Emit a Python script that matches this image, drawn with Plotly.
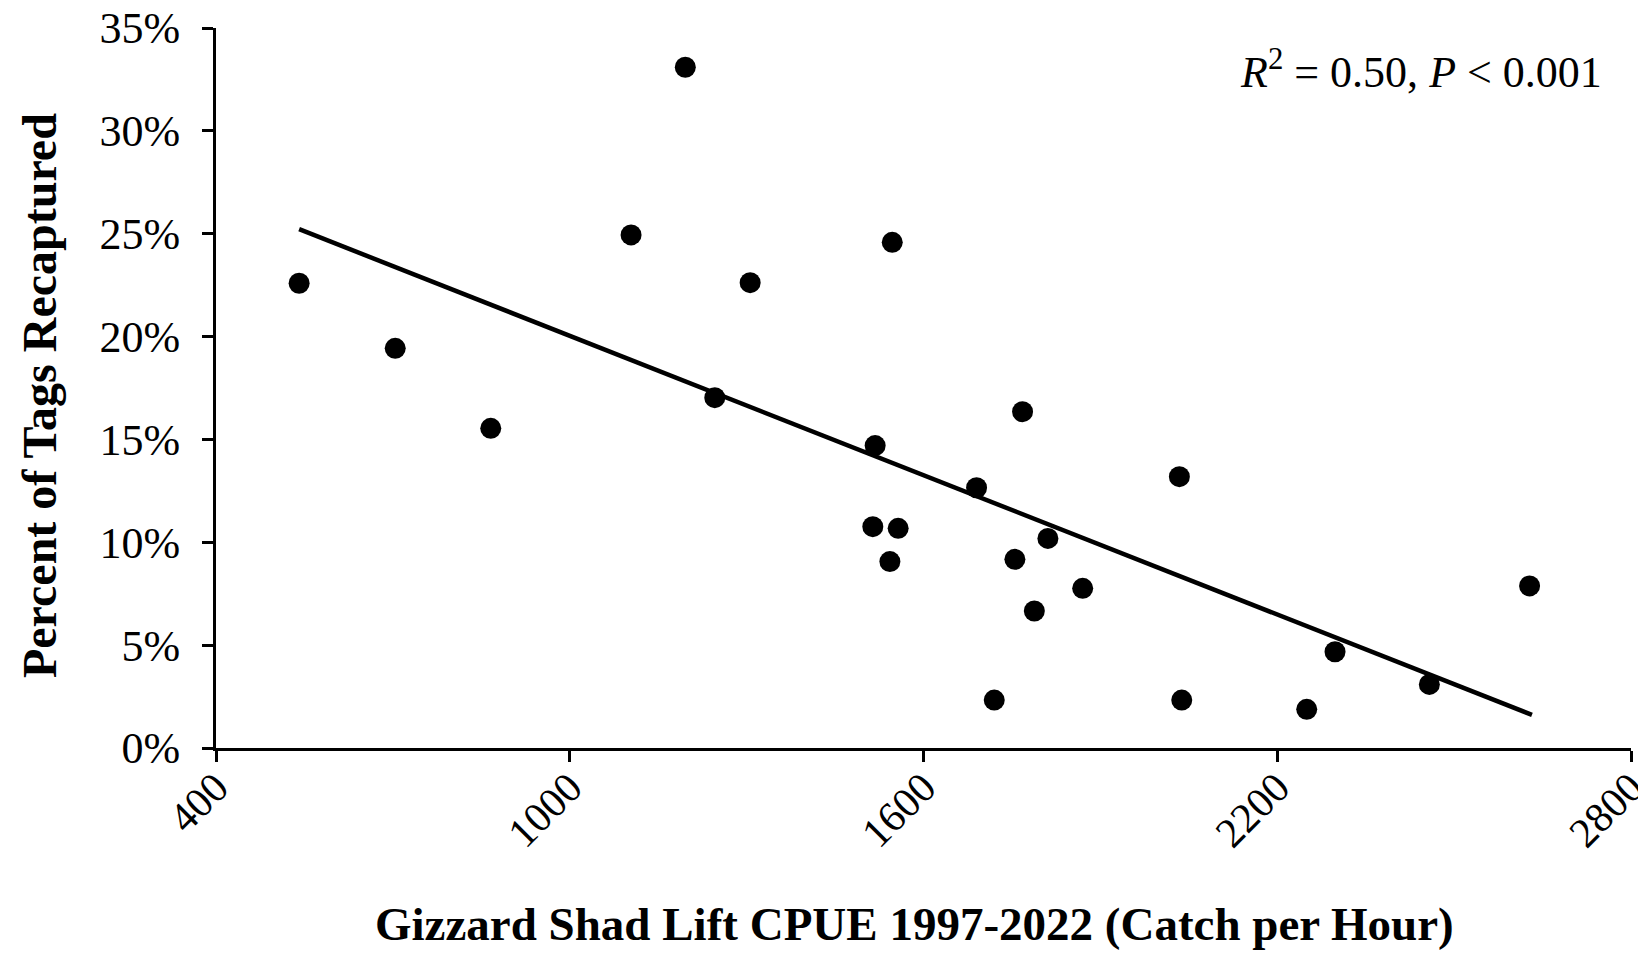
import plotly.graph_objects as go

# Data
cpue = [541, 704, 866, 1104, 1196, 1246, 1306, 1518, 1514, 1543, 1547, 1557,
        1690, 1720, 1755, 1768, 1788, 1811, 1870, 2034, 2038, 2250, 2298, 2458, 2628]
pct_recaptured = [22.59, 19.43, 15.54, 24.94, 33.09, 17.03, 22.62, 14.7, 10.76, 9.06, 24.58, 10.68,
                  12.65, 2.33, 9.17, 16.35, 6.66, 10.19, 7.76, 13.19, 2.33, 1.88, 4.68, 3.09, 7.88]

trend_x = [541, 2632]
trend_y = [25.22, 1.61]

x_ticks = [400, 1000, 1600, 2200, 2800]
y_ticks = [0, 5, 10, 15, 20, 25, 30, 35]

FONT = "Liberation Serif"

fig = go.Figure()
fig.add_trace(go.Scatter(
    x=cpue, y=pct_recaptured, mode="markers",
    marker=dict(color="black", size=21, line=dict(width=0)),
    showlegend=False, cliponaxis=False,
))
fig.add_trace(go.Scatter(
    x=trend_x, y=trend_y, mode="lines",
    line=dict(color="black", width=4.5),
    showlegend=False,
))

fig.add_annotation(
    x=1, y=35, xref="paper", yref="y", xanchor="right", yanchor="top",
    xshift=-27, yshift=-12,
    text="<i>R</i><sup>2</sup> = 0.50, <i>P</i> &lt; 0.001",
    showarrow=False, font=dict(family=FONT, size=44, color="black"),
)
# axis titles
fig.add_annotation(
    x=0.5, y=0, xref="paper", yref="paper", xanchor="center", yanchor="middle",
    yshift=-176, xshift=-9,
    text="<b>Gizzard Shad Lift CPUE 1997-2022 (Catch per Hour)</b>",
    showarrow=False, font=dict(family=FONT, size=47, color="black"),
)
fig.add_annotation(
    x=0, y=0.5, xref="paper", yref="paper", xanchor="center", yanchor="middle",
    xshift=-177, yshift=-8, textangle=-90,
    text="<b>Percent of Tags Recaptured</b>",
    showarrow=False, font=dict(family=FONT, size=48, color="black"),
)

# page body has an 8px margin, so the figure is sized to fit inside the window
fig.update_layout(
    width=1630, height=954,
    margin=dict(l=208, r=7, t=20, b=214),
    paper_bgcolor="white", plot_bgcolor="white",
    font=dict(family=FONT, color="black"),
)
fig.update_xaxes(
    range=[400, 2800], tickvals=x_ticks, ticktext=[str(v) for v in x_ticks],
    tickangle=-45, tickfont=dict(family=FONT, size=42, color="black"),
    showline=True, linecolor="black", linewidth=3,
    ticks="outside", ticklen=11, tickwidth=3, tickcolor="black",
    ticklabelstandoff=-16, ticklabeloverflow="allow", automargin=False,
    showgrid=False, zeroline=False,
)
fig.update_yaxes(
    range=[0, 35], tickvals=y_ticks, ticktext=[f"{v}%" for v in y_ticks],
    tickfont=dict(family=FONT, size=44, color="black"),
    showline=True, linecolor="black", linewidth=3,
    ticks="outside", ticklen=11, tickwidth=3, tickcolor="black",
    ticklabelstandoff=13, ticklabeloverflow="allow", automargin=False,
    showgrid=False, zeroline=False,
)

fig.write_html("out.html")
